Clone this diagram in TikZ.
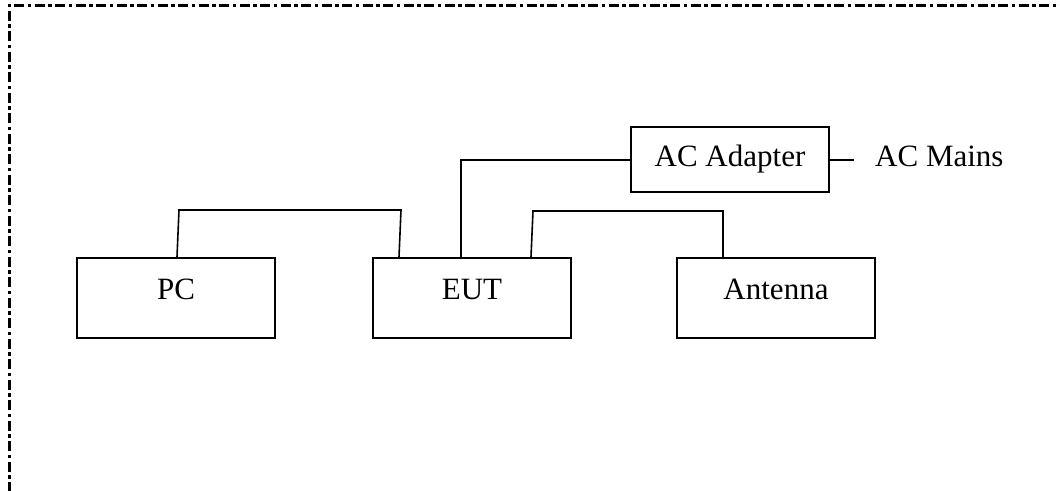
\documentclass[tikz,border=0pt]{standalone}
\usepackage{fontspec}
\setmainfont{Liberation Serif}
\begin{document}
\begin{tikzpicture}[x=1pt,y=-1pt,
  box/.style={draw=black,line width=2pt,rectangle,inner sep=0pt,
    font=\fontsize{31}{36}\selectfont},
  unit/.style={box,minimum width=198pt,minimum height=80pt,text height=20pt,text depth=17pt},
  wire/.style={draw=black,line width=1.6pt,line join=miter},
  frame/.style={draw=black,line width=3pt,dash pattern=on 10pt off 3.5pt on 3.5pt off 3.5pt}]
\useasboundingbox (0,0) rectangle (1060,490);
% frame (top and left)
\coordinate (fbl) at (9,492);
\coordinate (ftl) at (9,5);
\coordinate (ftr) at (1062,5);
\draw[frame] (fbl) -- (ftl) -- (ftr);
% boxes
\node[unit] (pc) at (176,298) {PC};
\node[unit] (eut) at (472,298) {EUT};
\node[unit] (ant) at (776,298) {Antenna};
\node[box,minimum width=198pt,minimum height=65pt,text height=22pt,text depth=8pt] (ada) at (730,159.5) {AC Adapter};
\node[anchor=base west,inner sep=0pt,font=\fontsize{31}{36}\selectfont] (mains) at (875,166) {AC Mains};
% wires
\coordinate (pcw1) at (179,210);
\coordinate (pcw2) at (401,210);
\draw[wire] ([xshift=1pt]pc.north) -- (pcw1) -- (pcw2) -- ([xshift=-73pt]eut.north);
\coordinate (adw1) at (461,160);
\draw[wire] ([xshift=-11pt]eut.north) -- (adw1) -- (ada.west |- adw1);
\coordinate (anw1) at (533,211);
\coordinate (anw2) at (723,211);
\draw[wire] ([xshift=59pt]eut.north) -- (anw1) -- (anw2) -- (ant.north -| anw2);
\coordinate (mw) at (854,160);
\draw[wire] (ada.east |- mw) -- (mw);
\end{tikzpicture}
\end{document}
